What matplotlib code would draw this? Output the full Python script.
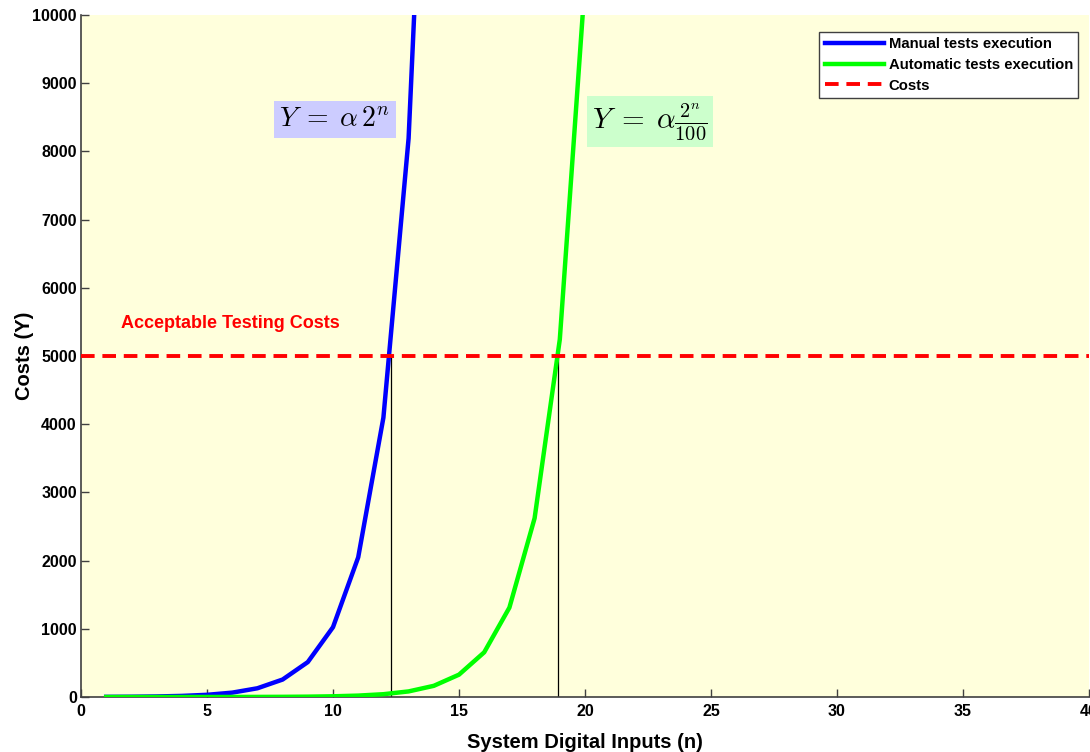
import numpy as np
import matplotlib
matplotlib.use("Agg")
import matplotlib.pyplot as plt

# Data
n_manual = np.arange(1, 15)
manual_costs = 2.0 ** n_manual
n_auto = np.arange(1, 21)
auto_costs = 2.0 ** n_auto / 100.0
acceptable_cost = 5000
cross_manual = np.log2(acceptable_cost)
cross_auto = np.log2(acceptable_cost * 100)

plt.rcParams['font.family'] = ['Liberation Sans', 'DejaVu Sans']
plt.rcParams['mathtext.fontset'] = 'cm'

fig = plt.figure(figsize=(10.9, 7.52), dpi=100)
ax = fig.add_axes([81/1090, 55/752, 1008/1090, 682/752])
ax.set_facecolor('#ffffdc')

ax.plot(n_manual, manual_costs, color='#0000ff', lw=3.2, label='Manual tests execution', zorder=3)
ax.plot(n_auto, auto_costs, color='#00ff00', lw=3.2, label='Automatic tests execution', zorder=3)
ax.axhline(acceptable_cost, color='#ff0000', lw=2.8, ls=(0, (3.5, 2)), label='Costs', zorder=4)
ax.plot([cross_manual, cross_manual], [0, acceptable_cost], color='black', lw=0.9, zorder=2)
ax.plot([cross_auto, cross_auto], [0, acceptable_cost], color='black', lw=0.9, zorder=2)

ax.set_xlim(0, 40)
ax.set_ylim(0, 10000)
ax.set_xticks(np.arange(0, 45, 5))
ax.set_yticks(np.arange(0, 11000, 1000))

for s in ['top', 'right']:
    ax.spines[s].set_visible(False)
for s in ['left', 'bottom']:
    ax.spines[s].set_color('#404040')
    ax.spines[s].set_linewidth(1.2)
ax.tick_params(direction='in', length=6, width=1, color='#404040', labelsize=11.5, pad=3)
ax.tick_params(axis='x', pad=5)
for lab in ax.get_xticklabels() + ax.get_yticklabels():
    lab.set_fontweight('bold')

ax.set_xlabel('System Digital Inputs (n)', fontsize=14.5, fontweight='bold', labelpad=10)
ax.set_ylabel('Costs (Y)', fontsize=14.5, fontweight='bold', labelpad=-1)

ax.text(1.6, 5480, 'Acceptable Testing Costs', color='#ff0000', fontsize=13,
        fontweight='bold', va='center', ha='left')

ax.text(10.08, 8470, r'$Y\;=\;\alpha\,2^{n}$', fontsize=20, ha='center', va='center',
        bbox=dict(facecolor='#ccccff', edgecolor='none', pad=4))
ax.text(22.58, 8440, r'$Y\;=\;\alpha\frac{2^{n}}{100}$', fontsize=21, ha='center', va='center',
        bbox=dict(facecolor='#ccffcc', edgecolor='none', pad=4))

leg = ax.legend(loc='upper right', bbox_to_anchor=(1078/1090, 1 - 32/752),
                bbox_transform=fig.transFigure, fancybox=False, framealpha=1,
                edgecolor='#404040', prop={'weight': 'bold', 'size': 10.7},
                handlelength=4.0, handletextpad=0.3, borderpad=0.35, labelspacing=0.45,
                borderaxespad=0)
leg.get_frame().set_linewidth(1.0)

fig.savefig('out.png', dpi=100)
